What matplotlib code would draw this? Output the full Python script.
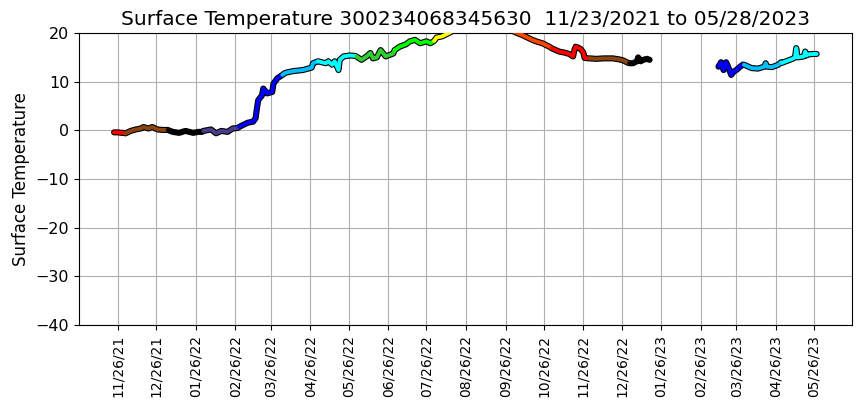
import numpy as np
import pandas as pd
import matplotlib
matplotlib.use("Agg")
import matplotlib.pyplot as plt
import matplotlib.dates as mdates

# readings (date, surface temperature)
dates = [
    # Nov 2021
    "2021-11-23", "2021-11-26", "2021-11-29", "2021-11-30",
    # Dec 2021
    "2021-12-02", "2021-12-06", "2021-12-10", "2021-12-14", "2021-12-16",
    "2021-12-20", "2021-12-23", "2021-12-27", "2021-12-31",
    # Jan 2022
    "2022-01-04", "2022-01-08", "2022-01-13", "2022-01-18", "2022-01-24",
    "2022-01-28", "2022-01-31",
    # Feb 2022
    "2022-02-01", "2022-02-07", "2022-02-11", "2022-02-15", "2022-02-20",
    "2022-02-24", "2022-02-28",
    # Mar 2022
    "2022-03-01", "2022-03-04", "2022-03-08", "2022-03-12", "2022-03-14",
    "2022-03-15", "2022-03-16", "2022-03-19", "2022-03-20", "2022-03-23",
    "2022-03-27", "2022-03-28", "2022-03-31",
    # Apr 2022
    "2022-04-04", "2022-04-06", "2022-04-09", "2022-04-13", "2022-04-20",
    "2022-04-27", "2022-04-28", "2022-04-30",
    # May 2022
    "2022-05-02", "2022-05-08", "2022-05-10", "2022-05-13", "2022-05-15",
    "2022-05-18", "2022-05-19", "2022-05-22", "2022-05-27", "2022-05-31",
    # Jun 2022
    "2022-06-01", "2022-06-05", "2022-06-09", "2022-06-12", "2022-06-14",
    "2022-06-17", "2022-06-20", "2022-06-24", "2022-06-27", "2022-06-30",
    # Jul 2022
    "2022-07-01", "2022-07-05", "2022-07-10", "2022-07-13", "2022-07-17",
    "2022-07-21", "2022-07-26", "2022-07-29", "2022-07-31",
    # Aug 2022
    "2022-08-01", "2022-08-03", "2022-08-07", "2022-08-11", "2022-08-14",
    "2022-08-18", "2022-08-25", "2022-08-31",
    # Sep 2022
    "2022-09-05", "2022-09-12", "2022-09-19", "2022-09-26", "2022-09-30",
    # Oct 2022
    "2022-10-01", "2022-10-05", "2022-10-09", "2022-10-13", "2022-10-17",
    "2022-10-21", "2022-10-25", "2022-10-31",
    # Nov 2022
    "2022-11-01", "2022-11-07", "2022-11-11", "2022-11-15", "2022-11-18",
    "2022-11-19", "2022-11-20", "2022-11-22", "2022-11-24", "2022-11-26",
    "2022-11-27", "2022-11-30",
    # Dec 2022
    "2022-12-01", "2022-12-06", "2022-12-12", "2022-12-19", "2022-12-24",
    "2022-12-27", "2022-12-31",
    # Jan 2023
    "2023-01-01", "2023-01-04", "2023-01-07", "2023-01-08", "2023-01-10",
    "2023-01-12", "2023-01-15", "2023-01-17",
    # Mar 2023
    "2023-03-12", "2023-03-14", "2023-03-16", "2023-03-18", "2023-03-20",
    "2023-03-22", "2023-03-24", "2023-03-26", "2023-03-29", "2023-03-31",
    # Apr 2023
    "2023-04-01", "2023-04-07", "2023-04-12", "2023-04-17", "2023-04-18",
    "2023-04-19", "2023-04-23", "2023-04-28", "2023-04-30",
    # May 2023
    "2023-05-01", "2023-05-04", "2023-05-09", "2023-05-11", "2023-05-12",
    "2023-05-13", "2023-05-18", "2023-05-19", "2023-05-20", "2023-05-21",
    "2023-05-25", "2023-05-28",
]
temps = [
    -0.4, -0.4, -0.5, -0.5,
    -0.6, -0.1, 0.2, 0.4, 0.7, 0.4, 0.7, 0.2, 0.1,
    0.1, -0.3, -0.5, -0.1, -0.5, -0.3, -0.3,
    -0.1, 0.2, -0.6, -0.1, -0.3, 0.4, 0.5,
    0.7, 1.1, 1.6, 1.8, 2.5, 4.5, 6.2, 7.2, 8.6, 7.6, 7.9, 9.6, 10.7,
    11.4, 11.8, 12.0, 12.2, 12.4, 12.9, 13.8, 14.0,
    14.2, 13.8, 14.2, 13.5, 14.2, 12.4, 14.5, 15.2, 15.4, 15.3,
    15.2, 14.5, 15.2, 15.9, 14.8, 15.0, 16.5, 15.2, 15.5, 15.8,
    16.5, 17.2, 17.7, 18.3, 18.6, 17.9, 18.3, 17.9, 18.2,
    18.4, 19.1, 19.3, 19.8, 20.2, 21.0, 21.5, 21.8,
    22.0, 22.3, 21.8, 21.2, 20.6,
    20.5, 20.0, 19.6, 19.1, 18.6, 18.2, 17.9, 17.1,
    16.9, 16.2, 16.0, 15.7, 15.2, 16.5, 17.2, 17.0, 16.7, 16.0, 14.9, 14.8,
    14.8, 14.7, 14.8, 14.8, 14.6, 14.4, 13.9,
    13.8, 13.8, 14.2, 15.0, 14.2, 14.5, 14.7, 14.5,
    13.1, 14.0, 12.4, 14.0, 12.8, 11.4, 12.1, 12.4, 13.1, 13.5,
    13.5, 12.8, 12.7, 13.1, 13.8, 13.1, 13.0, 13.5, 14.0,
    13.9, 14.2, 14.7, 15.0, 16.9, 15.0, 15.2, 16.2, 15.4, 15.6, 15.7, 15.7,
]

month_colors = {1: "black", 2: "darkslateblue", 3: "blue", 4: "deepskyblue",
                5: "cyan", 6: "limegreen", 7: "lime", 8: "yellow",
                9: "orange", 10: "orangered", 11: "red", 12: "saddlebrown"}

tick_dates = pd.date_range("2021-11-01", "2023-05-01", freq="MS") + pd.Timedelta(days=25)

df = pd.DataFrame({"date": pd.to_datetime(dates), "temp": temps})
# break the trace where the float stopped reporting
gap = df["date"].diff() > pd.Timedelta(days=20)
df["run"] = gap.cumsum()
df["ym"] = df["date"].dt.year * 100 + df["date"].dt.month

fig = plt.figure(figsize=(8.63, 4.08), dpi=100)
ax = fig.add_axes([0.0915, 0.203, 0.8955, 0.716])
ax.grid(True, color="#b0b0b0", linewidth=0.8)
ax.set_axisbelow(True)

for run, part in df.groupby("run"):
    ax.plot(part["date"], part["temp"], color="black", lw=4.4,
            solid_capstyle="round", solid_joinstyle="round", zorder=2)
    keys = list(part["ym"].unique())
    for i, k in enumerate(keys):
        seg = part[part["ym"] == k]
        if i + 1 < len(keys):
            nxt = part[part["ym"] == keys[i + 1]].iloc[:1]
            seg = pd.concat([seg, nxt])
        ax.plot(seg["date"], seg["temp"], color=month_colors[k % 100], lw=2.8,
                solid_capstyle="round", solid_joinstyle="round", zorder=3)

ax.set_ylim(-40, 20)
ax.set_xticks(tick_dates)
ax.xaxis.set_major_formatter(mdates.DateFormatter("%m/%d/%y"))
plt.setp(ax.get_xticklabels(), rotation=90, fontsize=10)
ax.tick_params(axis="y", labelsize=11.5)
ax.set_ylabel("Surface Temperature", fontsize=12)
ax.set_title("Surface Temperature 300234068345630  11/23/2021 to 05/28/2023", fontsize=14.5)

fig.savefig("out.png", dpi=100)
